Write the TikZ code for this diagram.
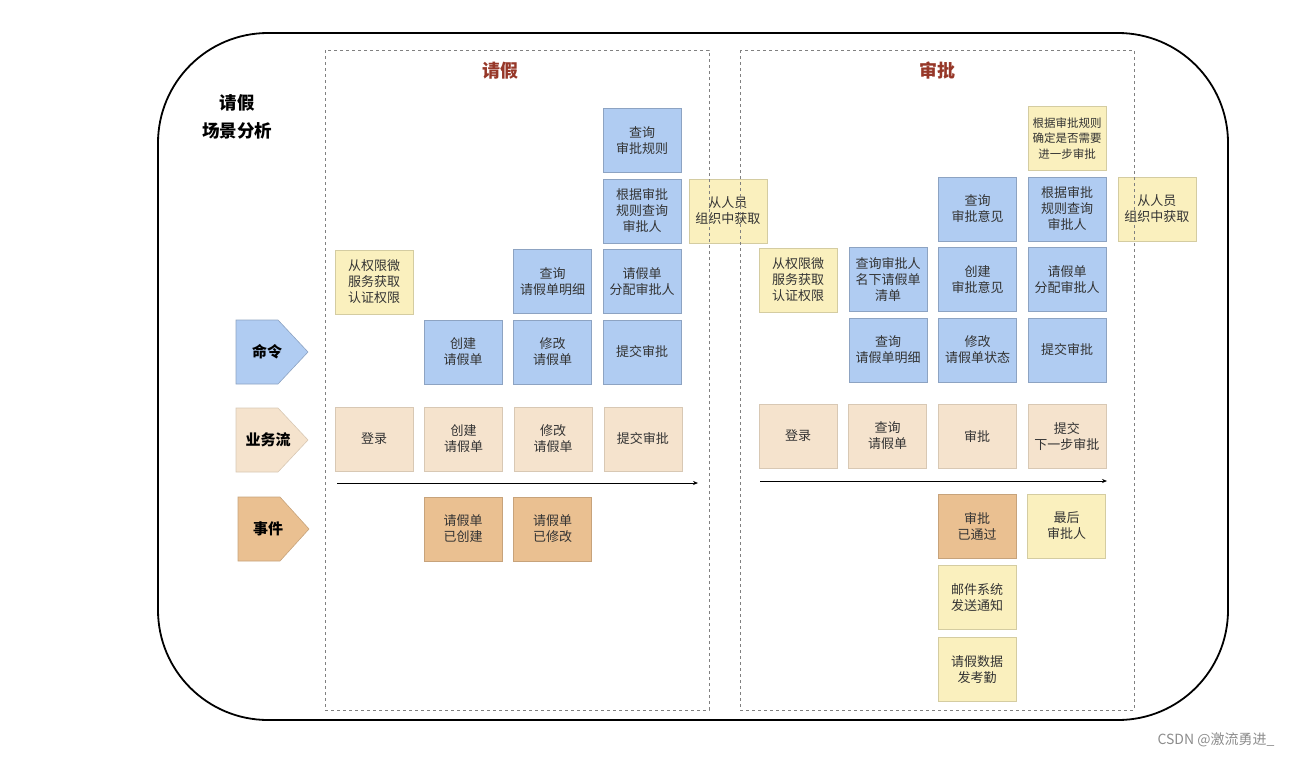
\documentclass[tikz,border=0pt]{standalone}
\usepackage{fontspec}
\setmainfont{Noto Sans CJK SC}
\usetikzlibrary{arrows.meta,positioning}
\definecolor{cmdblue}{RGB}{176,204,242}
\definecolor{flowpeach}{RGB}{245,227,205}
\definecolor{evttan}{RGB}{234,192,145}
\definecolor{extyellow}{RGB}{250,240,190}
\definecolor{titlered}{RGB}{150,55,40}

\begin{document}
\begin{tikzpicture}[
  x=1pt,y=-1pt,
  node distance=6pt and 11pt,
  card/.style={minimum width=78pt,minimum height=64pt,inner sep=1pt,align=center,line width=0.6pt,
    font=\fontsize{13}{16}\selectfont,text=black!80},
  cmd/.style={card,fill=cmdblue,draw=cmdblue!80!black},
  flow/.style={card,fill=flowpeach,draw=flowpeach!88!black},
  evt/.style={card,fill=evttan,draw=evttan!85!black},
  ext/.style={card,fill=extyellow,draw=extyellow!85!black},
  tagshape/.style={line width=0.6pt},
  tag/.style={inner sep=0pt,font=\fontsize{15}{18}\selectfont\bfseries},
  lane/.style={draw=black!50,dashed,line width=0.6pt},
  title/.style={font=\fontsize{18}{22}\selectfont\bfseries,text=titlered},
  flowarr/.style={-{Stealth[length=5pt,width=4pt]},line width=0.7pt}
]
\useasboundingbox (0,0) rectangle (1314,758);
\draw[line width=1.8pt,rounded corners=110pt] (158,33) rectangle (1228,720);

% row tags
\node[align=center,font=\fontsize{17.5}{28}\selectfont\bfseries] (scene) at (237,117) {请假\\场景分析};
\draw[tagshape,fill=cmdblue,draw=cmdblue!80!black] (236,320) -- (278,320) -- (308,352) -- (278,384) -- (236,384) -- cycle;
\node[tag] (tag-cmd) at (267,352) {命令};
\draw[tagshape,fill=flowpeach,draw=flowpeach!88!black] (236,408) -- (278,408) -- (308,440) -- (278,472) -- (236,472) -- cycle;
\node[tag] (tag-flow) at (268,440) {业务流};
\draw[tagshape,fill=evttan,draw=evttan!85!black] (238,497) -- (280,497) -- (309,529) -- (280,561) -- (238,561) -- cycle;
\node[tag] (tag-evt) at (268,529) {事件};

% leave
\node[title] (t-leave) at (500,71) {请假};
\node[cmd] (l-cmd-create) at (463,352) {创建\\请假单};
\node[cmd,right=of l-cmd-create] (l-cmd-edit) {修改\\请假单};
\node[cmd,right=of l-cmd-edit] (l-cmd-submit) {提交审批};
\node[ext] (l-auth) at (374,282) {从权限微\\服务获取\\认证权限};
\node[cmd,above=of l-cmd-edit] (l-query) {查询\\请假单明细};
\node[cmd,above=of l-cmd-submit] (l-assign) {请假单\\分配审批人};
\node[cmd,above=of l-assign] (l-rule-query) {根据审批\\规则查询\\审批人};
\node[cmd,above=of l-rule-query] (l-rule) {查询\\审批规则};
\node[ext,right=7pt of l-rule-query] (l-org) {从人员\\组织中获取};
\node[flow] (l-login) at (374,439) {登录};
\node[flow,right=of l-login] (l-create) {创建\\请假单};
\node[flow,right=of l-create] (l-edit) {修改\\请假单};
\node[flow,right=of l-edit] (l-submit) {提交审批};
\node[evt] (l-created) at (463,529) {请假单\\已创建};
\node[evt,right=of l-created] (l-edited) {请假单\\已修改};
\coordinate (l-start) at (337,483);
\coordinate (l-end) at (698,483);
\draw[flowarr] (l-start) -- (l-end);

% approve
\node[title] (t-approve) at (937,71) {审批};
\node[cmd] (r-cmd-query) at (888,350) {查询\\请假单明细};
\node[cmd,right=of r-cmd-query] (r-cmd-status) {修改\\请假单状态};
\node[cmd,right=of r-cmd-status] (r-cmd-submit) {提交审批};
\node[ext] (r-auth) at (798,280) {从权限微\\服务获取\\认证权限};
\node[cmd,above=of r-cmd-query] (r-list) {查询审批人\\名下请假单\\清单};
\node[cmd,above=of r-cmd-status] (r-create-opinion) {创建\\审批意见};
\node[cmd,above=of r-create-opinion] (r-query-opinion) {查询\\审批意见};
\node[cmd,above=of r-cmd-submit] (r-assign) {请假单\\分配审批人};
\node[cmd,above=of r-assign] (r-rule-query) {根据审批\\规则查询\\审批人};
\node[ext,above=of r-rule-query,font=\fontsize{11.5}{15.5}\selectfont] (r-further) {根据审批规则\\确定是否需要\\进一步审批};
\node[ext,right=of r-rule-query] (r-org) {从人员\\组织中获取};
\node[flow] (r-login) at (798,436) {登录};
\node[flow,right=of r-login] (r-query) {查询\\请假单};
\node[flow,right=of r-query] (r-approve) {审批};
\node[flow,right=of r-approve] (r-next) {提交\\下一步审批};
\node[evt] (r-passed) at (977,526) {审批\\已通过};
\node[ext,right=of r-passed] (r-last) {最后\\审批人};
\node[ext,below=7pt of r-passed] (r-mail) {邮件系统\\发送通知};
\node[ext,below=7pt of r-mail] (r-hr) {请假数据\\发考勤};
\coordinate (r-start) at (760,481);
\coordinate (r-end) at (1107,481);
\draw[flowarr] (r-start) -- (r-end);

\draw[lane] (325,50) rectangle (709,710);
\draw[lane] (740,50) rectangle (1134,710);

\node[text=black!45,font=\fontsize{14}{16}\selectfont] (mark) at (1216,740) {CSDN @激流勇进\_};
\end{tikzpicture}
\end{document}
